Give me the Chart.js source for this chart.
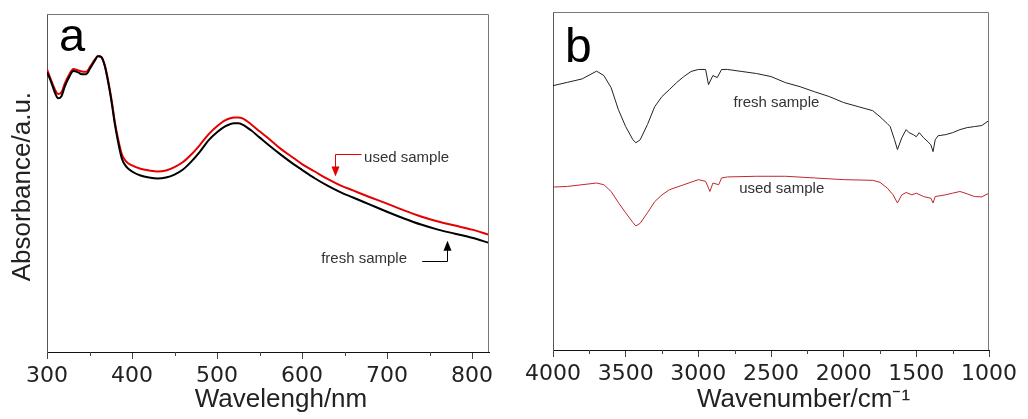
<!DOCTYPE html>
<html><head><meta charset="utf-8">
<script src="https://cdn.jsdelivr.net/npm/chart.js@4.4.0/dist/chart.umd.min.js"></script>
<style>
html,body{margin:0;padding:0;background:#fff;}
#wrap{position:relative;width:1028px;height:419px;background:#fff;}
#ca{position:absolute;left:0;top:0;}
#cb{position:absolute;left:500px;top:0;}
</style></head><body>
<div id="wrap"><canvas id="ca" width="500" height="419"></canvas><canvas id="cb" width="528" height="419"></canvas></div>
<script>
// ---- Panel a: UV-vis ----
const uvWavelength = [300,305,310,313,317,321,326,331,336,341,346,351,356,360,364,368,372,376,380,384,388,393,400,410,420,430,440,450,460,470,480,490,500,510,520,525,530,540,550,560,575,590,600,615,630,645,660,680,700,720,740,760,780,800,820];
const uvFresh = [82.8,79.8,76.3,75.1,75.7,78.6,81.3,83.1,82.8,82.2,82.2,84.0,86.1,87.5,87.2,84.6,79.8,73.9,67.1,61.7,57.3,54.9,53.4,52.2,51.6,51.3,51.6,52.5,54.0,56.4,59.3,62.6,65.0,66.8,67.7,67.7,67.3,65.6,63.5,61.4,58.4,55.6,53.9,51.4,49.2,47.3,45.7,43.6,41.5,39.5,37.7,36.2,35.0,33.8,32.3];
const uvUsed = [83.6,80.3,77.3,76.3,76.8,79.5,82.0,83.7,83.4,83.0,82.9,84.5,86.4,87.6,87.3,84.8,80.2,74.5,67.8,62.6,58.5,56.4,55.2,54.2,53.7,53.4,53.7,54.7,56.2,58.5,61.3,64.4,66.8,68.6,69.4,69.4,69.1,67.4,65.3,63.3,60.1,57.4,55.6,53.4,51.2,49.3,47.8,45.8,43.9,41.9,40.1,38.6,37.4,36.2,34.7];
const uvTicks = [300,400,500,600,700,800];
const uvMinorTicks = [350,450,550,650,750];

// ---- Panel b: FTIR ----
const irFreshWn = [4000,3900,3800,3700,3650,3600,3550,3500,3450,3430,3400,3350,3300,3250,3200,3150,3100,3050,3000,2950,2930,2900,2870,2840,2800,2700,2600,2500,2400,2300,2200,2100,2000,1900,1800,1750,1700,1680,1650,1630,1600,1570,1550,1520,1500,1480,1450,1420,1400,1385,1370,1350,1300,1250,1200,1150,1100,1050,1000];
const irFreshT = [78.2,79.2,80.2,82.5,81.2,77.6,71.1,66.1,62.2,61.3,62.2,66.7,72.0,75.0,77.0,79.1,80.9,82.4,83.0,83.0,78.5,81.2,80.6,83.0,83.0,82.4,81.8,80.9,79.1,77.9,76.4,75.0,73.2,72.0,70.8,69.0,67.0,66.1,62.2,59.3,62.8,65.2,64.3,63.7,63.1,64.3,62.8,61.6,60.7,58.7,62.2,63.4,63.7,64.3,65.2,65.8,66.1,66.4,67.9];
const irUsedWn = [4000,3900,3800,3700,3650,3600,3550,3500,3450,3430,3400,3350,3300,3250,3200,3100,3000,2950,2920,2900,2860,2840,2800,2600,2400,2200,2000,1800,1750,1700,1660,1630,1600,1570,1530,1500,1450,1400,1385,1370,1300,1250,1200,1150,1100,1050,1000];
const irUsedT = [48.2,48.4,48.9,49.4,48.9,46.9,43.6,40.6,37.7,36.7,37.5,40.6,43.9,45.9,47.4,48.9,50.4,49.9,46.9,49.4,48.9,50.9,51.2,51.4,51.4,50.9,50.4,50.2,49.6,47.9,45.9,43.5,45.9,46.6,45.9,46.4,45.4,44.9,43.5,45.4,45.9,46.4,46.9,46.2,45.4,45.3,46.4];
const irTicks = [4000,3500,3000,2500,2000,1500,1000];
const irMinorTicks = [3750,3250,2750,2250,1750,1250];

const FONT = "'Liberation Sans', Arial, sans-serif";
const TICKFONT = "'DejaVu Sans', sans-serif";

function pairs(xs, ys){ return xs.map((x,i)=>({x:x, y:ys[i]})); }

function arrowHead(ctx, x, tipY, dir){ // dir: 1 = pointing down, -1 = pointing up
  ctx.beginPath();
  ctx.moveTo(x-4, tipY - dir*10);
  ctx.lineTo(x+4, tipY - dir*10);
  ctx.lineTo(x, tipY);
  ctx.closePath();
  ctx.fill();
}

function decoPlugin(minorTicks, letter, letterSize, letterDx, letterDy, annotate){
  return {
    id: 'deco',
    afterDraw(chart){
      const {ctx, chartArea:a, scales:{x, y}} = chart;
      ctx.save();
      ctx.strokeStyle = '#777'; ctx.lineWidth = 1;
      ctx.beginPath();
      ctx.moveTo(Math.round(a.left), Math.round(a.top)+0.5);
      ctx.lineTo(Math.round(a.right)-0.5, Math.round(a.top)+0.5);
      ctx.lineTo(Math.round(a.right)-0.5, Math.round(a.bottom));
      ctx.stroke();
      ctx.strokeStyle = '#444';
      minorTicks.forEach(v => {
        const px = Math.round(x.getPixelForValue(v)) + 0.5;
        ctx.beginPath(); ctx.moveTo(px, a.bottom); ctx.lineTo(px, a.bottom + 4); ctx.stroke();
      });
      ctx.fillStyle = '#000'; ctx.font = letterSize + 'px ' + FONT;
      ctx.textAlign = 'left'; ctx.textBaseline = 'alphabetic';
      ctx.fillText(letter, a.left + letterDx, a.top + letterDy);
      annotate(ctx, x, y);
      ctx.restore();
    }
  };
}

const commonX = (ticksArr, height, pad, titleText, titlePadBottom) => ({
  type: 'linear',
  afterFit: s => { s.height = height; },
  afterBuildTicks: s => { s.ticks = ticksArr.map(v => ({value: v})); },
  ticks: {font: {family: TICKFONT, size: 22}, color: '#222', padding: pad, maxRotation: 0, autoSkip: false, callback: v => String(v)},
  grid: {drawOnChartArea: false, drawTicks: true, tickLength: 7, color: '#444'},
  border: {display: true, color: '#111', width: 1},
  title: {display: true, text: titleText, color: '#222', font: {family: FONT, size: 26}, padding: {top: 0, bottom: titlePadBottom}}
});

// Chart a
new Chart(document.getElementById('ca'), {
  type: 'line',
  data: {datasets: [
    {label: 'fresh sample', data: pairs(uvWavelength, uvFresh), borderColor: '#000', borderWidth: 2, pointRadius: 0, tension: 0.3, cubicInterpolationMode: 'monotone'},
    {label: 'used sample', data: pairs(uvWavelength, uvUsed), borderColor: '#e50000', borderWidth: 2, pointRadius: 0, tension: 0.3, cubicInterpolationMode: 'monotone'}
  ]},
  options: {
    responsive: false, animation: false, devicePixelRatio: 1,
    layout: {padding: {left: 0, right: 11, top: 14, bottom: 0}},
    plugins: {legend: {display: false}, tooltip: {enabled: false}},
    scales: {
      x: Object.assign(commonX(uvTicks, 67, 4, '\u2002\u2002Wavelengh/nm', 4), {min: 300, max: 820}),
      y: {
        min: 0, max: 100,
        afterFit: s => { s.width = 47; },
        ticks: {display: false},
        grid: {display: false},
        border: {display: true, color: '#555'},
        title: {display: true, text: 'Absorbance/a.u. ', color: '#222', font: {family: FONT, size: 26}, padding: {top: 7, bottom: 0}}
      }
    }
  },
  plugins: [decoPlugin(uvMinorTicks, 'a', 47, 12, 37, (ctx, x, y) => {
    ctx.font = '15px ' + FONT; ctx.fillStyle = '#333'; ctx.textBaseline = 'middle'; ctx.textAlign = 'left';
    ctx.fillText('used sample', x.getPixelForValue(673), y.getPixelForValue(57.3));
    ctx.fillText('fresh sample', x.getPixelForValue(622.5), y.getPixelForValue(27.6));
    ctx.strokeStyle = '#e50000'; ctx.fillStyle = '#e50000'; ctx.lineWidth = 1;
    let x1 = x.getPixelForValue(670), x2 = Math.round(x.getPixelForValue(639)) + 0.5;
    let yy = Math.round(y.getPixelForValue(58.5)) + 0.5, tip = y.getPixelForValue(51.9);
    ctx.beginPath(); ctx.moveTo(x1, yy); ctx.lineTo(x2, yy); ctx.lineTo(x2, tip - 8); ctx.stroke();
    arrowHead(ctx, x2, tip, 1);
    ctx.strokeStyle = '#000'; ctx.fillStyle = '#000';
    x1 = x.getPixelForValue(741.4); x2 = Math.round(x.getPixelForValue(770.9)) + 0.5;
    yy = Math.round(y.getPixelForValue(27.0)) + 0.5; tip = y.getPixelForValue(32.9);
    ctx.beginPath(); ctx.moveTo(x1, yy); ctx.lineTo(x2, yy); ctx.lineTo(x2, tip + 8); ctx.stroke();
    arrowHead(ctx, x2, tip, -1);
  })]
});

// Chart b
new Chart(document.getElementById('cb'), {
  type: 'line',
  data: {datasets: [
    {label: 'fresh sample', data: pairs(irFreshWn, irFreshT), borderColor: '#222', borderWidth: 1, pointRadius: 0, tension: 0},
    {label: 'used sample', data: pairs(irUsedWn, irUsedT), borderColor: '#c0282d', borderWidth: 1, pointRadius: 0, tension: 0}
  ]},
  options: {
    responsive: false, animation: false, devicePixelRatio: 1,
    layout: {padding: {left: 0, right: 39, top: 12, bottom: 0}},
    plugins: {legend: {display: false}, tooltip: {enabled: false}},
    scales: {
      x: Object.assign(commonX(irTicks, 69, 4, '\u2003\u2003\u2002Wavenumber/cm\u207B\u00B9', 4), {min: 1000, max: 4000, reverse: true}),
      y: {
        min: 0, max: 100,
        afterFit: s => { s.width = 53; },
        ticks: {display: false},
        grid: {display: false},
        border: {display: true, color: '#555'},
        title: {display: false}
      }
    }
  },
  plugins: [decoPlugin(irMinorTicks, 'b', 48, 12, 49.5, (ctx, x, y) => {
    ctx.font = '15px ' + FONT; ctx.fillStyle = '#333'; ctx.textBaseline = 'middle'; ctx.textAlign = 'left';
    ctx.fillText('fresh sample', x.getPixelForValue(2758), y.getPixelForValue(73.2));
    ctx.fillText('used sample', x.getPixelForValue(2719), y.getPixelForValue(47.7));
  })]
});
</script>
</body></html>
